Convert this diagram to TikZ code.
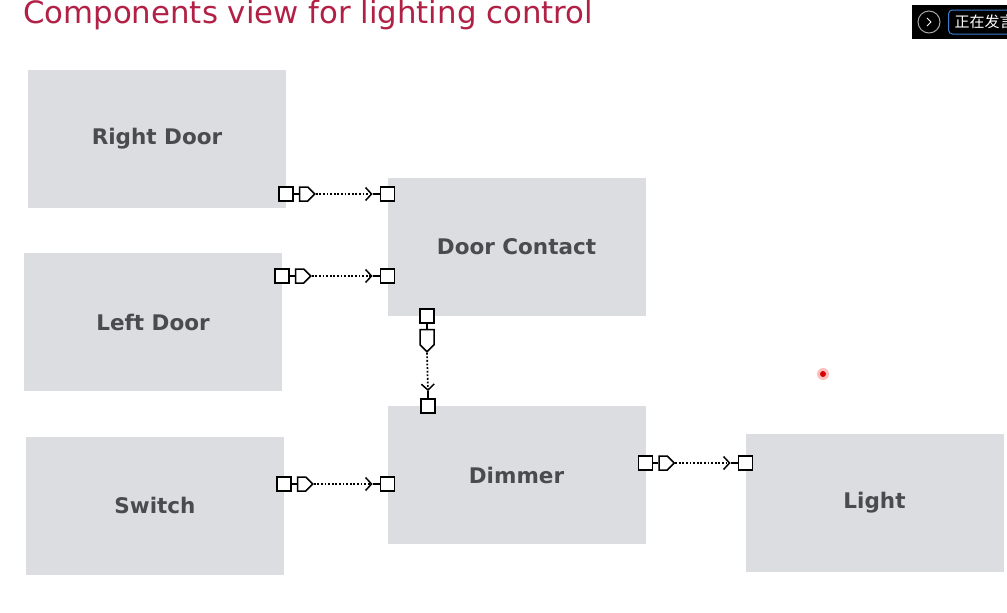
\documentclass[tikz,border=0pt]{standalone}
\usepackage{fontspec}
\setsansfont{DejaVu Sans}
\newfontfamily\cjkfont{Noto Sans CJK SC}
\usetikzlibrary{arrows.meta,positioning,shapes.symbols}

\definecolor{compgray}{HTML}{DCDDE1}
\definecolor{comptext}{HTML}{4A4B4F}
\definecolor{titlered}{HTML}{B22145}
\definecolor{barblue}{HTML}{3A7FD0}

\tikzset{
  comp/.style={fill=compgray, minimum width=258pt, minimum height=138pt,
    inner sep=0pt, text=comptext, font=\sffamily\bfseries\fontsize{21.5}{23}\selectfont},
  port/.style={draw, fill=white, line width=1.5pt, minimum size=14pt, inner sep=0pt},
  provided/.style={draw, fill=white, line width=1.5pt, shape=signal,
    minimum width=15pt, minimum height=14pt, inner sep=0pt},
  wire/.style={line width=1.5pt},
  link/.style={line width=1.7pt, dash pattern=on 1.8pt off 1.8pt,
    -{Straight Barb[length=6pt, width=13pt, line width=1.5pt]}}
}

\begin{document}
\begin{tikzpicture}[x=1pt,y=-1pt]

      % frame
      \fill[white] (0,0) rectangle (1007,613);
      \useasboundingbox (0,0) rectangle (1007,613);

      % title
      \node[anchor=west, inner sep=0pt, text=titlered,
        font=\sffamily\fontsize{30.8}{32}\selectfont] (title) at (23,15)
        {Components view for lighting control};

      % components
      \node[comp] (rightdoor) at (157,139) {Right Door};
      \node[comp] (leftdoor) at (153,322) {Left Door};
      \node[comp] (switch) at (155,505.5) {Switch};
      \node[comp] (doorcontact) at (516.5,247) {Door Contact};
      \node[comp] (dimmer) at (516.5,475) {Dimmer};
      \node[comp] (light) at (874.5,502.5) {Light};

      % horizontal connectors
      \foreach \src/\dst/\y/\n in {
        rightdoor/doorcontact/194/a,
        leftdoor/doorcontact/276/b,
        switch/dimmer/484/c,
        dimmer/light/463/d}
      {
        \node[port] (out\n) at (\src.east |- 0,\y) {};
        \node[provided, signal to=east, right=5pt of out\n] (prov\n) {};
        \node[port] (in\n) at (\dst.west |- 0,\y) {};
        \coordinate[left=7pt of in\n] (sock\n);
        \draw[wire] (out\n) -- (prov\n);
        \draw[link] (prov\n.east) -- (sock\n);
        \draw[wire] (sock\n) -- (in\n);
      }

      % vertical connector
      \node[port] (oute) at (doorcontact.south -| 427,0) {};
      \node[provided, signal to=south, minimum width=14pt, minimum height=15pt,
        below=5pt of oute] (prove) {};
      \node[port] (ine) at (dimmer.north -| 428,0) {};
      \coordinate[above=7pt of ine] (socke);
      \draw[wire] (oute) -- (prove);
      \draw[link] (prove.south) -- (socke);
      \draw[wire] (socke) -- (ine);

      % pointer dot
      \fill[red!25] (823,374) circle (6);
      \fill[red!85!black] (823,374) circle (3);

      % speaker bar
      \fill[black] (912,5) rectangle (1007,39);
      \node[circle, draw=gray!70, line width=1pt, minimum size=22pt, inner sep=0pt]
        (nextbtn) at (929,22) {};
      \draw[white, line width=1pt] ([xshift=-2pt,yshift=4pt]nextbtn.center)
        -- ([xshift=2pt]nextbtn.center) -- ([xshift=-2pt,yshift=-4pt]nextbtn.center);
      \begin{scope}
        \clip (940,0) rectangle (1007,40);
        \node[draw=barblue, rounded corners=4pt, line width=1pt, anchor=west,
          minimum height=24pt, inner sep=0pt, text width=70pt, text=white,
          font=\cjkfont\fontsize{15}{16}\selectfont] (speaking) at (948,22)
          {\hspace{6pt}正在发言};
      \end{scope}

    \end{tikzpicture}
\end{document}
